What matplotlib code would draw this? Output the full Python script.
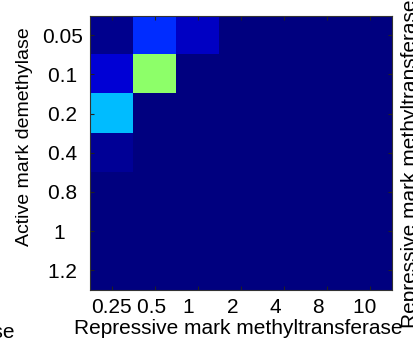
import numpy as np
import matplotlib.pyplot as plt

plt.rcParams['font.family'] = ['Liberation Sans', 'DejaVu Sans']

# tick labels padded to equal length, like a char matrix
methyltransferase = ['0.25', '0.5 ', '1   ', '2   ', '4   ', '8   ', '10  ']
demethylase = ['0.05', '0.1 ', '0.2 ', '0.4 ', '0.8 ', '1   ', '1.2 ']

# fraction of bistable runs, rows = demethylase, cols = methyltransferase
frac = np.array([
    [0.012, 0.17, 0.062, 0.0, 0.0, 0.0, 0.0],
    [0.077, 0.52, 0.0, 0.0, 0.0, 0.0, 0.0],
    [0.31, 0.0, 0.0, 0.0, 0.0, 0.0, 0.0],
    [0.02, 0.0, 0.0, 0.0, 0.0, 0.0, 0.0],
    [0.0, 0.0, 0.0, 0.0, 0.0, 0.0, 0.0],
    [0.0, 0.0, 0.0, 0.0, 0.0, 0.0, 0.0],
    [0.0, 0.0, 0.0, 0.0, 0.0, 0.0, 0.0],
])

xlab = 'Repressive mark methyltransferase'
ylab = 'Active mark demethylase'

fig = plt.figure(figsize=(4.13, 3.54), dpi=100)
ax = fig.add_axes([90 / 413, 1 - 290 / 354, 302 / 413, 274.5 / 354])
ax.imshow(frac, cmap='jet', vmin=0, vmax=1, aspect='auto', interpolation='nearest')

ax.set_xticks(range(len(methyltransferase)))
ax.set_xticklabels(methyltransferase)
ax.set_yticks(range(len(demethylase)))
ax.set_yticklabels(demethylase)
ax.tick_params(direction='in', length=3, width=0.8, labelsize=15,
               top=True, right=True, color='#222222')
ax.tick_params(axis='x', pad=6)
ax.tick_params(axis='y', pad=5)
for s in ax.spines.values():
    s.set_color('#333333')
    s.set_linewidth(0.8)

ax.set_xlabel(xlab, fontsize=15)
ax.xaxis.set_label_coords(0.49, -0.105)
ax.set_ylabel(ylab, fontsize=14)
ax.yaxis.set_label_coords(-0.189, 0.557)

# pieces of the neighbouring panels' labels
fig.text(15 / 413, 1 - 333 / 354, xlab, fontsize=15, ha='right', va='center')
fig.text(401 / 413, 1 - 328 / 354, xlab, fontsize=15,
         rotation=90, ha='left', va='bottom')

fig.savefig('out.png', dpi=100)
